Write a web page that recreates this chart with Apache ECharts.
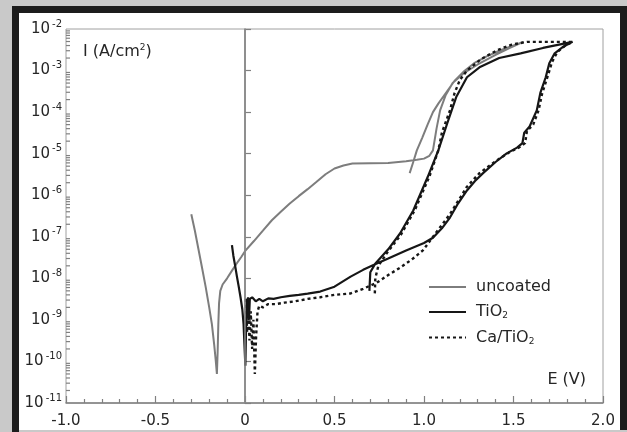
<!DOCTYPE html>
<html>
<head>
<meta charset="utf-8">
<script src="https://cdn.jsdelivr.net/npm/echarts@6/dist/echarts.min.js"></script>
<style>
  html, body { margin: 0; padding: 0; background: #c9c9c9; }
  #chart { width: 627px; height: 432px; }
</style>
</head>
<body>
<div id="chart"></div>
<script>
// potential E (V) and current density I (A/cm2)
const uncoatedE = [-0.30, -0.28, -0.26, -0.24, -0.22, -0.20, -0.185, -0.172, -0.163, -0.157, -0.153, -0.149, -0.145, -0.138, -0.125, -0.10, -0.07, -0.04, -0.02, 0.0, 0.05, 0.10, 0.15, 0.20, 0.25, 0.30, 0.35, 0.40, 0.45, 0.50, 0.55, 0.60, 0.70, 0.80, 0.90, 0.96, 1.00, 1.03, 1.05, 1.07, 1.09, 1.12, 1.16, 1.22, 1.30, 1.40, 1.48, 1.555,
  1.50, 1.42, 1.35, 1.28, 1.22, 1.17, 1.12, 1.08, 1.05, 1.02, 0.99, 0.96, 0.94, 0.92]
const uncoatedI = [3.5e-7, 1.4e-7, 5.0e-8, 1.8e-8, 6.3e-9, 2.0e-9, 7.9e-10, 2.5e-10, 1.0e-10, 5.0e-11, 1.6e-10, 7.9e-10, 2.5e-9, 5.0e-9, 7.1e-9, 1.0e-8, 1.6e-8, 2.5e-8, 3.3e-8, 4.5e-8, 7.9e-8, 1.4e-7, 2.5e-7, 4.0e-7, 6.3e-7, 9.5e-7, 1.4e-6, 2.1e-6, 3.2e-6, 4.4e-6, 5.2e-6, 5.8e-6, 5.9e-6, 6.0e-6, 6.6e-6, 7.1e-6, 7.6e-6, 8.9e-6, 1.2e-5, 4.0e-5, 1.1e-4, 2.5e-4, 5.0e-4, 8.5e-4, 1.4e-3, 2.4e-3, 3.5e-3, 4.9e-3,
  4.0e-3, 3.0e-3, 2.2e-3, 1.5e-3, 9.3e-4, 5.6e-4, 2.8e-4, 1.6e-4, 1.0e-4, 5.0e-5, 2.4e-5, 1.2e-5, 6.3e-6, 3.4e-6]

const tio2E = [-0.073, -0.065, -0.055, -0.045, -0.035, -0.025, -0.015, -0.008, -0.003, 0.002, 0.006, 0.010, 0.013, 0.017, 0.022, 0.027, 0.04, 0.06, 0.08, 0.10, 0.13, 0.16, 0.20, 0.25, 0.30, 0.35, 0.42, 0.50, 0.59, 0.66, 0.73, 0.80, 0.90, 1.00, 1.05, 1.10, 1.145, 1.19, 1.24, 1.285, 1.33, 1.40, 1.46, 1.52, 1.55, 1.56, 1.59, 1.63, 1.65, 1.68, 1.70, 1.73, 1.78, 1.83,
  1.665, 1.54, 1.42, 1.31, 1.24, 1.18, 1.13, 1.08, 1.02, 0.94, 0.866, 0.80, 0.726, 0.70, 0.695]
const tio2I = [6.3e-8, 3.5e-8, 2.0e-8, 1.1e-8, 6.3e-9, 3.5e-9, 1.8e-9, 7.9e-10, 2.5e-10, 7.9e-11, 6.3e-10, 3.2e-9, 1.3e-9, 3.5e-9, 1.0e-9, 3.2e-9, 3.5e-9, 2.8e-9, 3.2e-9, 2.8e-9, 3.3e-9, 3.2e-9, 3.5e-9, 3.8e-9, 4.0e-9, 4.3e-9, 4.8e-9, 6.3e-9, 1.1e-8, 1.6e-8, 2.2e-8, 3.0e-8, 4.7e-8, 7.1e-8, 9.5e-8, 1.6e-7, 2.9e-7, 6.3e-7, 1.3e-6, 2.2e-6, 3.4e-6, 6.3e-6, 1.0e-5, 1.4e-5, 1.8e-5, 3.2e-5, 4.5e-5, 1.1e-4, 2.9e-4, 6.9e-4, 1.5e-3, 2.6e-3, 3.8e-3, 4.9e-3,
  3.5e-3, 2.6e-3, 2.0e-3, 1.2e-3, 6.9e-4, 2.3e-4, 5.4e-5, 1.2e-5, 2.7e-6, 4.3e-7, 1.2e-7, 5.0e-8, 2.2e-8, 1.4e-8, 5.0e-9]

const caTio2E = [0.005, 0.012, 0.018, 0.025, 0.032, 0.040, 0.047, 0.055, 0.062, 0.070, 0.08, 0.10, 0.13, 0.17, 0.22, 0.28, 0.35, 0.42, 0.50, 0.587, 0.66, 0.737, 0.80, 0.866, 0.93, 0.994, 1.07, 1.145, 1.24, 1.31, 1.40, 1.48, 1.53, 1.565, 1.575, 1.61, 1.64, 1.66, 1.69, 1.715, 1.745, 1.79, 1.83,
  1.70, 1.575, 1.49, 1.41, 1.32, 1.24, 1.20, 1.17, 1.145, 1.10, 1.08, 1.03, 0.95, 0.87, 0.80, 0.745, 0.728, 0.725]
const caTio2I = [3.2e-9, 5.0e-10, 2.0e-9, 3.2e-10, 1.6e-9, 2.0e-10, 1.0e-9, 5.0e-11, 4.0e-10, 1.6e-9, 2.2e-9, 2.0e-9, 2.4e-9, 2.4e-9, 2.6e-9, 2.8e-9, 3.2e-9, 3.5e-9, 4.0e-9, 4.3e-9, 5.6e-9, 7.9e-9, 1.2e-8, 1.8e-8, 2.8e-8, 4.7e-8, 1.3e-7, 3.5e-7, 1.6e-6, 3.4e-6, 6.6e-6, 1.1e-5, 1.4e-5, 1.8e-5, 3.5e-5, 5.0e-5, 1.1e-4, 2.8e-4, 7.1e-4, 1.6e-3, 2.8e-3, 4.0e-3, 4.9e-3,
  4.9e-3, 4.9e-3, 4.2e-3, 3.1e-3, 1.9e-3, 1.0e-3, 5.9e-4, 2.8e-4, 1.1e-4, 3.2e-5, 1.2e-5, 2.8e-6, 4.5e-7, 1.1e-7, 4.5e-8, 2.0e-8, 1.0e-8, 4.0e-9]

const seriesNames = ['uncoated', 'TiO2', 'Ca/TiO2']

// log axis: decades from 1e-11 to 1e-2, minor ticks at 2..9 of each decade
const yMin = 1e-11
const yMax = 1e-2
const minorTickVals = []
for (let d = -11; d < -2; d++) {
  for (let k = 2; k <= 9; k++) minorTickVals.push([-1, k * Math.pow(10, d)])
}

const font = 'DejaVu Sans, sans-serif'
const textColor = '#262626'

function pairs (xs, ys) {
  return xs.map((x, i) => [x, ys[i]])
}

const chart = echarts.init(document.getElementById('chart'))
const option = {
  animation: false,
  backgroundColor: '#c9c9c9',
  textStyle: { fontFamily: font },
  graphic: [
    { type: 'rect', z: -10, shape: { x: 12, y: 6, width: 615, height: 426 }, style: { fill: '#1c1c1c' } },
    { type: 'rect', z: -9, shape: { x: 19, y: 13, width: 601, height: 417 }, style: { fill: '#ffffff' } },
    { type: 'rect', z: -9, shape: { x: 19, y: 430, width: 608, height: 2 }, style: { fill: '#c9c9c9' } },
    {
      type: 'text', z: 100, x: 83, y: 52,
      style: {
        text: '{t|I (A/cm}{s|2}{t|)}',
        verticalAlign: 'middle',
        fill: textColor,
        rich: {
          t: { fontSize: 16, fontFamily: font, fill: textColor },
          s: { fontSize: 9, fontFamily: font, fill: textColor, padding: [0, 0, 9, 0] }
        }
      }
    },
    {
      type: 'text', z: 100, x: 586, y: 380,
      style: { text: 'E (V)', fontSize: 16, fontFamily: font, fill: textColor, align: 'right', verticalAlign: 'middle' }
    }
  ],
  grid: {
    show: true,
    left: 66,
    right: 24,
    top: 29,
    bottom: 29,
    borderColor: '#a0a0a0',
    borderWidth: 1,
    backgroundColor: 'transparent'
  },
  legend: {
    orient: 'vertical',
    left: 428,
    top: 279,
    padding: 0,
    itemWidth: 37,
    itemHeight: 16,
    itemGap: 9,
    selectedMode: false,
    data: seriesNames,
    itemStyle: { opacity: 0 },
    formatter: function (name) {
      return name.replace('TiO2', 'TiO{sub|2}')
    },
    textStyle: {
      fontSize: 16,
      fontFamily: font,
      color: textColor,
      padding: [0, 0, 0, 5],
      rich: {
        sub: { fontSize: 9, fontFamily: font, color: textColor, padding: [8, 0, 0, 0] }
      }
    }
  },
  xAxis: {
    type: 'value',
    min: -1,
    max: 2,
    interval: 0.5,
    axisLine: { lineStyle: { color: '#808080', width: 1.5 } },
    axisTick: { inside: true, length: 7, lineStyle: { color: '#808080', width: 1.2 } },
    minorTick: { show: true, splitNumber: 5, length: 4, lineStyle: { color: '#808080', width: 1.2 } },
    splitLine: { show: false },
    axisLabel: {
      margin: 11,
      fontSize: 15,
      fontFamily: font,
      color: textColor,
      formatter: function (v) {
        return v === 0 ? '0' : v.toFixed(1)
      }
    }
  },
  yAxis: {
    type: 'log',
    logBase: 10,
    min: yMin,
    max: yMax,
    splitNumber: 9,
    axisLine: { show: true, lineStyle: { color: '#808080', width: 1.5 } },
    axisTick: { inside: true, length: 6, lineStyle: { color: '#808080', width: 1.2 } },
    splitLine: { show: false },
    axisLabel: {
      margin: 4,
      color: textColor,
      formatter: function (v) {
        const e = Math.round(Math.log10(v))
        return '{b|10}{e|' + e + '}'
      },
      rich: {
        b: { fontSize: 15, fontFamily: font, color: textColor },
        e: { fontSize: 10, fontFamily: font, color: textColor, padding: [0, 0, 10, 2] }
      }
    }
  },
  series: [
    {
      name: 'uncoated',
      type: 'line',
      data: pairs(uncoatedE, uncoatedI),
      symbol: 'none',
      lineStyle: { color: '#7d7d7d', width: 2 },
      itemStyle: { color: '#7d7d7d' },
      markLine: {
        silent: true,
        symbol: 'none',
        label: { show: false },
        lineStyle: { color: '#8a8a8a', type: 'solid', width: 1.5 },
        data: [{ xAxis: 0 }]
      },
      z: 3
    },
    {
      name: 'TiO2',
      type: 'line',
      data: pairs(tio2E, tio2I),
      symbol: 'none',
      lineStyle: { color: '#161616', width: 2.2 },
      itemStyle: { color: '#161616' },
      z: 4
    },
    {
      name: 'Ca/TiO2',
      type: 'line',
      data: pairs(caTio2E, caTio2I),
      symbol: 'none',
      lineStyle: { color: '#161616', width: 2.4, type: [3, 3] },
      itemStyle: { color: '#161616' },
      z: 4
    },
    {
      name: 'minorTicks',
      type: 'custom',
      silent: true,
      clip: false,
      data: minorTickVals,
      renderItem: function (params, api) {
        const p = api.coord([api.value(0), api.value(1)])
        return {
          type: 'line',
          shape: { x1: p[0], y1: p[1], x2: p[0] + 4, y2: p[1] },
          style: { stroke: '#808080', lineWidth: 1.2 }
        }
      }
    }
  ]
}
chart.setOption(option)
</script>
</body>
</html>
